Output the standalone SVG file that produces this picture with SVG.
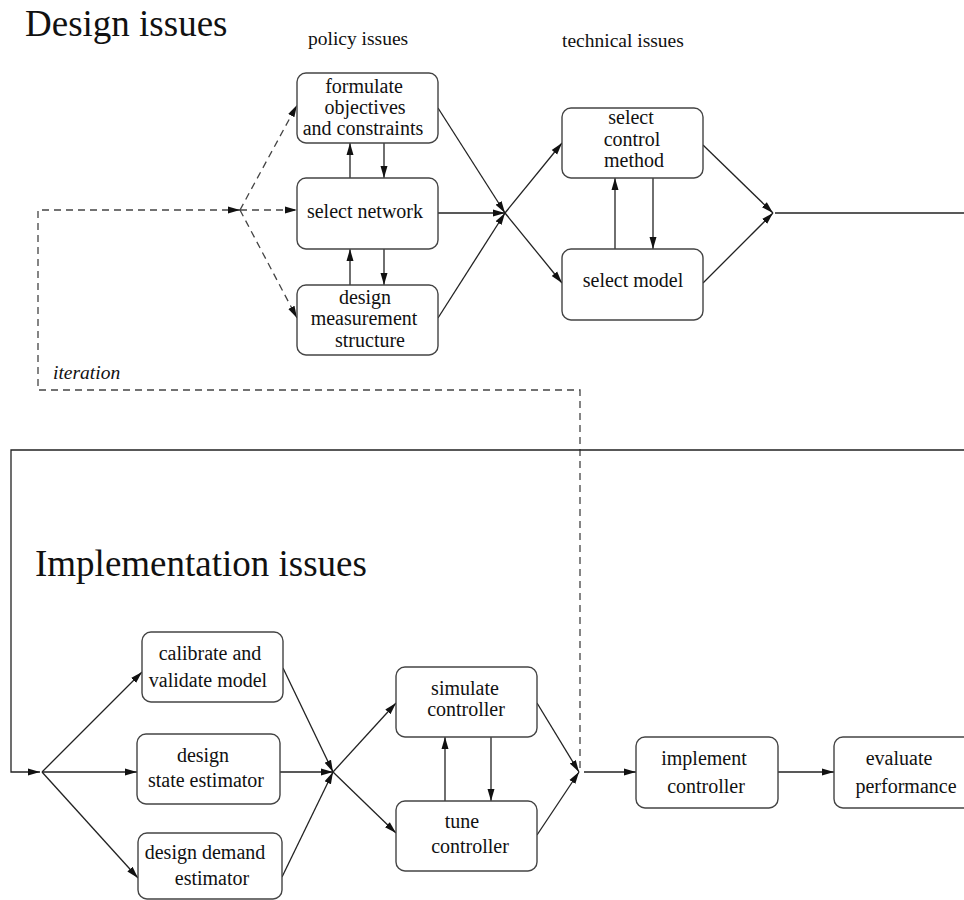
<svg xmlns="http://www.w3.org/2000/svg" width="964" height="900" viewBox="0 0 964 900">
  <style>
    .box { fill: #fff; stroke: #444; stroke-width: 1.4; }
    .lbl { font-family: "Liberation Serif", "Times New Roman", serif; font-size: 20px; fill: #111; text-anchor: middle; }
    .head { font-family: "Liberation Serif", "Times New Roman", serif; font-size: 37px; fill: #111; }
    .cap { font-family: "Liberation Serif", "Times New Roman", serif; font-size: 19.5px; fill: #111; }
    .ln { fill: none; stroke: #222; stroke-width: 1.3; }
    .arr { marker-end: url(#ah); }
    .dash { fill: none; stroke: #444; stroke-width: 1.3; stroke-dasharray: 7 5; }
  </style>
  <defs>
    <marker id="ah" markerUnits="userSpaceOnUse" markerWidth="13" markerHeight="9" refX="12" refY="4.5" orient="auto">
      <path d="M0,1 L12,4.5 L0,8 z" fill="#111"/>
    </marker>
  </defs>
  <rect width="964" height="900" fill="#fff"/>

  <!-- headings -->
  <text class="head" x="25" y="36">Design issues</text>
  <text class="cap" x="308" y="45">policy issues</text>
  <text class="cap" x="562" y="47">technical issues</text>
  <text class="cap" x="53" y="379" font-style="italic">iteration</text>
  <text class="head" x="35" y="576">Implementation issues</text>

  <!-- connectors -->
  <g id="connectors">
    <!-- iteration loop -->
    <path class="dash arr" d="M580,768 V390 H38 V210 H240"/>
    <path class="dash arr" d="M240,210 L297,105"/>
    <path class="dash arr" d="M240,210 L297,210"/>
    <path class="dash arr" d="M240,210 L297,318"/>

    <!-- policy block internal -->
    <path class="ln arr" d="M384,143 V178"/>
    <path class="ln arr" d="M350,178 V143"/>
    <path class="ln arr" d="M384,249 V285"/>
    <path class="ln arr" d="M350,285 V249"/>

    <!-- policy to technical -->
    <path class="ln arr" d="M438,108 L505,213"/>
    <path class="ln arr" d="M438,213 L505,213"/>
    <path class="ln arr" d="M438,318 L505,213"/>
    <path class="ln arr" d="M505,213 L562,143"/>
    <path class="ln arr" d="M505,213 L562,283"/>

    <!-- technical block internal -->
    <path class="ln arr" d="M653,178 V249"/>
    <path class="ln arr" d="M615,249 V178"/>
    <path class="ln arr" d="M703,145 L773,213"/>
    <path class="ln arr" d="M703,283 L773,213"/>
    <path class="ln" d="M775,213 H964"/>

    <!-- link to implementation -->
    <path class="ln arr" d="M964,450 H11 V772 H40"/>
    <path class="ln arr" d="M42,772 L142,672"/>
    <path class="ln arr" d="M42,772 L137,772"/>
    <path class="ln arr" d="M42,772 L138,878"/>
    <path class="ln arr" d="M283,668 L333,772"/>
    <path class="ln arr" d="M280,772 L333,772"/>
    <path class="ln arr" d="M282,877 L333,772"/>
    <path class="ln arr" d="M333,772 L396,703"/>
    <path class="ln arr" d="M333,772 L396,833"/>
    <path class="ln arr" d="M445,801 V737"/>
    <path class="ln arr" d="M491,737 V801"/>
    <path class="ln arr" d="M537,703 L579,772"/>
    <path class="ln arr" d="M537,835 L579,772"/>
    <path class="ln arr" d="M584,772 L636,772"/>
    <path class="ln arr" d="M778,772 L834,772"/>
  </g>

  <!-- design nodes -->
  <g id="formulate">
    <rect class="box" x="297" y="73" width="141" height="70" rx="9"/>
    <text class="lbl" x="364" y="93">formulate</text>
    <text class="lbl" x="365" y="114">objectives</text>
    <text class="lbl" x="363" y="135">and constraints</text>
  </g>
  <g id="select-network">
    <rect class="box" x="297" y="178" width="141" height="71" rx="9"/>
    <text class="lbl" x="365" y="218">select network</text>
  </g>
  <g id="measurement">
    <rect class="box" x="297" y="285" width="141" height="70" rx="9"/>
    <text class="lbl" x="365" y="304">design</text>
    <text class="lbl" x="364" y="325">measurement</text>
    <text class="lbl" x="370" y="347">structure</text>
  </g>
  <g id="control-method">
    <rect class="box" x="562" y="108" width="141" height="70" rx="9"/>
    <text class="lbl" x="631" y="124">select</text>
    <text class="lbl" x="632" y="146">control</text>
    <text class="lbl" x="634" y="167">method</text>
  </g>
  <g id="select-model">
    <rect class="box" x="562" y="249" width="141" height="71" rx="9"/>
    <text class="lbl" x="633" y="287">select model</text>
  </g>

  <!-- implementation nodes -->
  <g id="calibrate">
    <rect class="box" x="142" y="632" width="141" height="70" rx="9"/>
    <text class="lbl" x="210" y="660">calibrate and</text>
    <text class="lbl" x="208" y="687">validate model</text>
  </g>
  <g id="state-estimator">
    <rect class="box" x="137" y="734" width="143" height="70" rx="9"/>
    <text class="lbl" x="203" y="762">design</text>
    <text class="lbl" x="206" y="787">state estimator</text>
  </g>
  <g id="demand-estimator">
    <rect class="box" x="138" y="833" width="144" height="66" rx="9"/>
    <text class="lbl" x="205" y="859">design demand</text>
    <text class="lbl" x="212" y="885">estimator</text>
  </g>
  <g id="simulate">
    <rect class="box" x="396" y="667" width="141" height="70" rx="9"/>
    <text class="lbl" x="465" y="695">simulate</text>
    <text class="lbl" x="466" y="716">controller</text>
  </g>
  <g id="tune">
    <rect class="box" x="396" y="801" width="141" height="70" rx="9"/>
    <text class="lbl" x="462" y="828">tune</text>
    <text class="lbl" x="470" y="853">controller</text>
  </g>
  <g id="implement">
    <rect class="box" x="636" y="737" width="142" height="71" rx="9"/>
    <text class="lbl" x="704" y="765">implement</text>
    <text class="lbl" x="706" y="793">controller</text>
  </g>
  <g id="evaluate">
    <rect class="box" x="834" y="737" width="141" height="71" rx="9"/>
    <text class="lbl" x="899" y="765">evaluate</text>
    <text class="lbl" x="906" y="793">performance</text>
  </g>
</svg>
